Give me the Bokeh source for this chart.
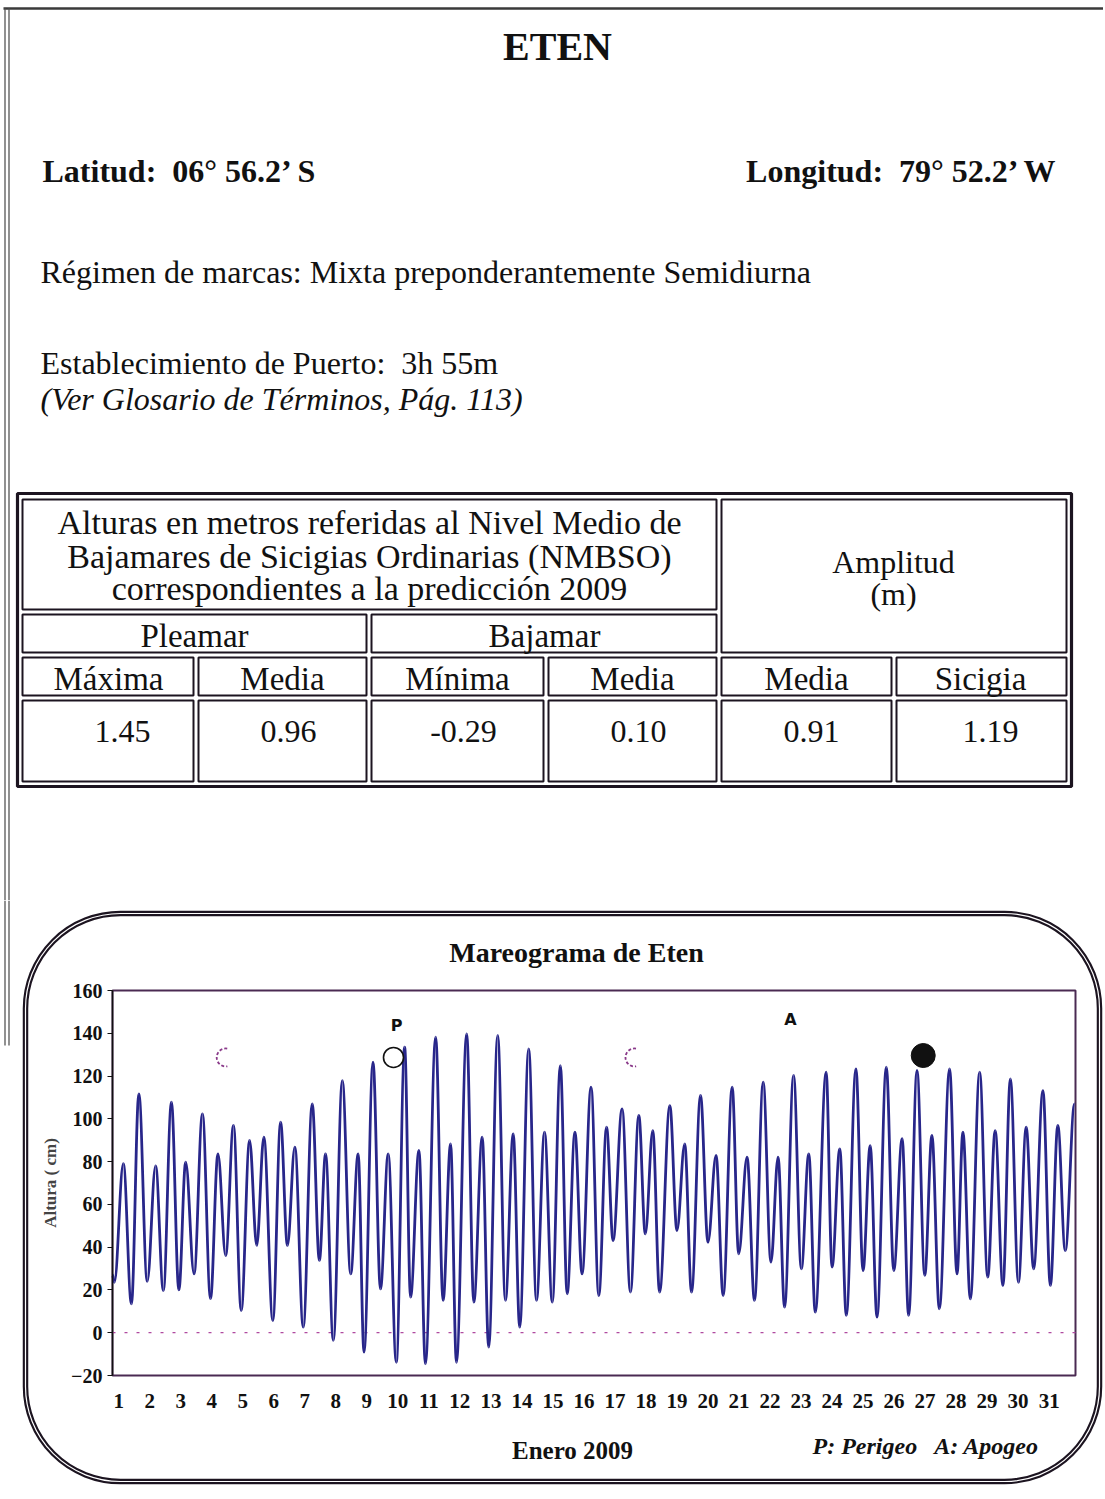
from bokeh.plotting import figure
from bokeh.layouts import column
from bokeh.models import Range1d, Label, FixedTicker, BoxAnnotation
from bokeh.embed import file_html
from bokeh.resources import INLINE

# ---------------- data ----------------
station = "ETEN"
latitude_text = "Latitud:\u00a0 06° 56.2’ S"
longitude_text = "Longitud:\u00a0 79° 52.2’ W"
regimen_text = "Régimen de marcas: Mixta preponderantemente Semidiurna"
puerto_text = "Establecimiento de Puerto:\u00a0 3h 55m"
glosario_text = "(Ver Glosario de Términos, Pág. 113)"

table_heading = ["Alturas en metros referidas al Nivel Medio de",
                 "Bajamares de Sicigias Ordinarias (NMBSO)",
                 "correspondientes a la predicción 2009"]
group_labels = ["Pleamar", "Bajamar"]
amplitude_label = ["Amplitud", "(m)"]
column_labels = ["Máxima", "Media", "Mínima", "Media", "Media", "Sicigia"]
column_values = [1.45, 0.96, -0.29, 0.10, 0.91, 1.19]

chart_title = "Mareograma de Eten"
month_label = "Enero 2009"
legend_text = "P: Perigeo\u00a0\u00a0 A: Apogeo"
y_label = "Altura ( cm)"

# tide extremes (day of January 2009, height in cm)
tide_day = [0.80, 0.86, 1.15, 1.41, 1.65, 1.92, 2.19, 2.44, 2.70, 2.94,
            3.16, 3.43, 3.70, 3.96, 4.20, 4.45, 4.70, 4.95, 5.22, 5.45,
            5.68, 5.97, 6.22, 6.44, 6.68, 6.95, 7.24, 7.47, 7.67, 7.92,
            8.21, 8.48, 8.72, 8.91, 9.20, 9.44, 9.69, 9.95, 10.22, 10.41,
            10.68, 10.89, 11.22, 11.46, 11.70, 11.89, 12.22, 12.45, 12.72, 12.93,
            13.22, 13.47, 13.72, 13.93, 14.22, 14.47, 14.73, 14.98, 15.24, 15.46,
            15.71, 15.94, 16.23, 16.48, 16.73, 16.94, 17.23, 17.50, 17.77, 17.98,
            18.22, 18.44, 18.77, 19.00, 19.25, 19.47, 19.76, 20.00, 20.26, 20.49,
            20.78, 20.99, 21.26, 21.50, 21.78, 22.03, 22.26, 22.47, 22.76, 23.01,
            23.25, 23.46, 23.81, 24.00, 24.25, 24.46, 24.77, 25.00, 25.23, 25.45,
            25.75, 25.99, 26.26, 26.47, 26.74, 26.99, 27.22, 27.46, 27.79, 28.03,
            28.22, 28.46, 28.76, 29.02, 29.26, 29.51, 29.75, 30.01, 30.26, 30.50,
            30.80, 31.04, 31.28, 31.52, 31.82]
tide_cm = [27, 23.6, 79, 13.5, 111.7, 24, 78, 19.7, 107.8, 20,
           79.7, 27.5, 102.3, 15.9, 83.6, 36.1, 96.9, 10.4, 89.9, 40.8,
           91.4, 5.7, 98.4, 40.8, 86.8, 2.6, 107, 33.8, 83.6, -3.6,
           117.9, 27.5, 83.6, -9.1, 126.5, 20.5, 83.6, -13.8, 133.5, 16.6,
           85.2, -14.5, 138.2, 15.1, 88.3, -13.8, 139.7, 14.3, 91.4, -6.7,
           139, 15.1, 93, 2.6, 132.7, 15.1, 93.8, 14.3, 124.9, 18.2,
           93.8, 27.5, 114.8, 17.4, 96.1, 43.1, 104.7, 19, 101.6, 46.2,
           94.5, 19, 106.2, 47.8, 88.3, 19, 110.9, 42.3, 82.9, 17.4,
           114.8, 36.9, 82.1, 15.1, 117.1, 33, 82.1, 12, 120.3, 29.9,
           83.6, 9.6, 121.8, 30.7, 86, 8.1, 123.4, 29.1, 87.5, 7.3,
           124.2, 29.1, 90.7, 8.1, 122.6, 26.8, 92.2, 11.2, 123.4, 27.5,
           93.8, 15.8, 121.8, 26, 94.5, 22.1, 118.7, 23.6, 96.1, 29.9,
           113.2, 22.1, 96.9, 38.4, 107]

day_ticks = list(range(1, 32))
height_ticks = list(range(-20, 161, 20))

moon_day = [4.45, 9.86, 17.63, 26.94]
moon_cm = [128.7, 128.7, 128.7, 129.6]
perigee_day, perigee_cm = 9.96, 143.6
apogee_day, apogee_cm = 22.66, 146.4

INK = "#1c1420"
SERIF = "Liberation Serif"
W = 1103
TOP_H = 900
CH_H = 597


def txt(fig, x, y, s, size, style="normal", align="left", font=SERIF, color="#111111"):
    fig.add_layout(Label(x=x, y=y, text=s, text_align=align, text_baseline="middle",
                         text_font=font, text_font_size=f"{size}px", text_font_style=style,
                         text_color=color))


# ---------------- header figure (page pixel coordinates) ----------------
head = figure(width=W, height=TOP_H, x_range=Range1d(0, W), y_range=Range1d(TOP_H, 0),
              output_backend="svg", toolbar_location=None, min_border=0,
              x_axis_location=None, y_axis_location=None, outline_line_color=None)
head.grid.visible = False

head.line([3, W], [8, 8], line_color="#3a3a3a", line_width=2.5)
head.line([4.5, 4.5], [8, TOP_H], line_color="#555555", line_width=1.3)
head.line([8.5, 8.5], [8, TOP_H], line_color="#555555", line_width=1.3)

txt(head, 557, 46, station, 40, "bold", "center")
txt(head, 42, 170, latitude_text, 32, "bold")
txt(head, 1058, 170, longitude_text, 32, "bold", "right")
txt(head, 40, 271, regimen_text, 32)
txt(head, 40, 362, puerto_text, 32)
txt(head, 40, 398, glosario_text, 32, "italic")

head.quad(left=17, right=1071, top=493, bottom=786, fill_color=None, line_color=INK, line_width=3.2)
cell_l = [22, 721, 22, 371, 22, 198, 371, 548, 721, 896, 22, 198, 371, 548, 721, 896]
cell_r = [716, 1066, 366, 716, 193, 366, 543, 716, 891, 1066, 193, 366, 543, 716, 891, 1066]
cell_t = [499, 499, 614, 614] + [657] * 6 + [700] * 6
cell_b = [609, 652, 652, 652] + [695] * 6 + [781] * 6
head.quad(left=cell_l, right=cell_r, top=cell_t, bottom=cell_b, fill_color=None,
          line_color=INK, line_width=2)

for s, y in zip(table_heading, [522, 556, 588]):
    txt(head, 369, y, s, 34, "normal", "center")
for s, x in zip(group_labels, [194, 544]):
    txt(head, x, 635, s, 33, "normal", "center")
for s, y in zip(amplitude_label, [561, 593]):
    txt(head, 893, y, s, 32, "normal", "center")
for s, x in zip(column_labels, [108, 282, 457, 632, 806, 980]):
    txt(head, x, 678, s, 33, "normal", "center")
for v, x in zip(column_values, [122, 288, 463, 638, 811, 990]):
    txt(head, x, 731, f"{v:.2f}", 32, "normal", "center")

# ---------------- chart figure ----------------
FL, FR, FT, FB = 112, 1075, 990, 1375  # plot box in page pixels
X0, X1 = 0.80, 31.85
Y0, Y1 = -20, 160


def px2x(px):
    return X0 + (px - FL) * (X1 - X0) / (FR - FL)


def py2y(py):
    return Y1 - (py - FT) * (Y1 - Y0) / (FB - FT)


chart = figure(width=W, height=CH_H,
               x_range=Range1d(px2x(0), px2x(W)),
               y_range=Range1d(py2y(TOP_H + CH_H), py2y(TOP_H)),
               output_backend="svg", toolbar_location=None, min_border=0,
               outline_line_color=None)
chart.grid.visible = False

# page border continuing from header
chart.line([px2x(4.5), px2x(4.5)], [py2y(TOP_H), py2y(1045)], line_color="#555555", line_width=1.3)
chart.line([px2x(8.5), px2x(8.5)], [py2y(TOP_H), py2y(1045)], line_color="#555555", line_width=1.3)

# rounded frame around the chart (double line)
frame_kw = dict(left=px2x(25), right=px2x(1099), top=py2y(913), bottom=py2y(1481),
                fill_color=None, fill_alpha=0, line_alpha=1, border_radius=95)
chart.add_layout(BoxAnnotation(line_color=INK, line_width=5.5, **frame_kw))
chart.add_layout(BoxAnnotation(line_color="white", line_width=1.2, **frame_kw))

# plot box and zero line
chart.quad(left=X0, right=X1, bottom=Y0, top=Y1, fill_color=None, line_color="#4a2a52", line_width=2)
chart.line([X0, X1], [0, 0], line_color="#b04aa0", line_dash="3 9", line_width=1.3)

# smooth tide curve through the extremes (horizontal tangent at each extreme)
k = 0.3634
x0s, y0s, x1s, y1s = tide_day[:-1], tide_cm[:-1], tide_day[1:], tide_cm[1:]
cx0 = [a + k * (b - a) for a, b in zip(x0s, x1s)]
cx1 = [b - k * (b - a) for a, b in zip(x0s, x1s)]
chart.bezier(x0=x0s, y0=y0s, x1=x1s, y1=y1s, cx0=cx0, cy0=y0s, cx1=cx1, cy1=y1s,
             line_color="#28268a", line_width=2.8)

# moon phases
chart.arc(x=[moon_day[0], moon_day[2]], y=[moon_cm[0], moon_cm[2]], radius=9, radius_units="screen",
          start_angle=1.4, end_angle=4.9, line_color="#8a3a8a", line_dash="3 2", line_width=1.8)
chart.scatter([moon_day[1]], [moon_cm[1]], size=20, fill_color="white", line_color="#111111", line_width=1.6)
chart.scatter([moon_day[3]], [moon_cm[3]], size=24, fill_color="#111111", line_color="#111111")

txt(chart, perigee_day, perigee_cm, "P", 16, "bold", "center", font="DejaVu Sans")
txt(chart, apogee_day, apogee_cm, "A", 16, "bold", "center", font="DejaVu Sans")

txt(chart, px2x(576), py2y(952), chart_title, 28, "bold", "center")
txt(chart, px2x(572), py2y(1450), month_label, 25, "bold", "center")
txt(chart, px2x(812), py2y(1445), legend_text, 24, "bold italic", "left")

# axes fixed on the plot box
xa = chart.xaxis[0]
xa.fixed_location = Y0
xa.bounds = (X0, X1)
xa.ticker = FixedTicker(ticks=day_ticks)
xa.axis_line_color = None
xa.major_tick_line_color = None
xa.minor_tick_line_color = None
xa.major_tick_out = 0
xa.major_label_standoff = 18
xa.major_label_text_font = SERIF
xa.major_label_text_font_style = "bold"
xa.major_label_text_font_size = "21px"
xa.major_label_text_color = "#111111"

ya = chart.yaxis[0]
ya.fixed_location = X0
ya.bounds = (Y0, Y1)
ya.ticker = FixedTicker(ticks=height_ticks)
ya.axis_line_color = "#111111"
ya.axis_line_width = 1.5
ya.major_tick_line_color = "#111111"
ya.minor_tick_line_color = None
ya.major_tick_out = 5
ya.major_tick_in = 0
ya.major_label_standoff = 5
ya.major_label_text_font = SERIF
ya.major_label_text_font_style = "bold"
ya.major_label_text_font_size = "20px"
ya.major_label_text_color = "#111111"
ya.axis_label = y_label
ya.axis_label_text_font = SERIF
ya.axis_label_text_font_style = "bold"
ya.axis_label_text_font_size = "17px"
ya.axis_label_standoff = 8

layout = column(head, chart)
open("out.html", "w").write(file_html(layout, INLINE))
